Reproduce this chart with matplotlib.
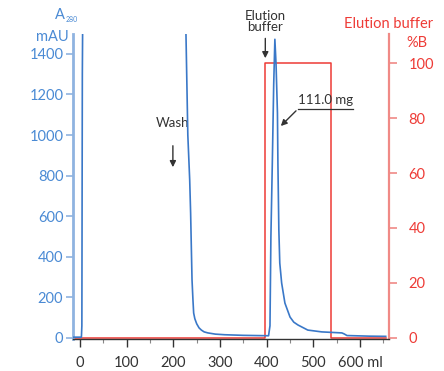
import matplotlib
matplotlib.use("Agg")
import matplotlib.pyplot as plt

# A280 trace (ml, mAU)
a280_ml = [-15, 3, 4, 5, 7, 224, 227, 231, 235, 237, 238.5, 240, 242, 243.5, 246, 250, 255,
           260, 266, 274, 290, 310, 350, 404, 407, 409, 412, 415, 417.5, 420, 423, 424, 426,
           428, 432, 439, 450, 458, 467, 488, 518, 561, 566, 572, 620, 655]
a280_mau = [4, 4, 60, 1300, 2000, 2000, 1500, 1000, 780, 616, 449, 286, 187, 123, 95, 70, 50,
            39, 30, 25, 19, 16, 13, 11, 60, 500, 860, 1250, 1472, 1350, 1109, 862, 532,
            369, 271, 172, 103, 78, 64, 39, 30, 25, 20, 12, 9, 8]

# %B trace
pctb_ml = [-15, 397, 397, 537, 537, 655]
pctb_val = [0, 0, 100, 100, 0, 0]

x_ticks = [0, 100, 200, 300, 400, 500, 600]
x_ticklabels = ["0", "100", "200", "300", "400", "500", "600 ml"]
y_ticks = [0, 200, 400, 600, 800, 1000, 1200, 1400]
y2_ticks = [0, 20, 40, 60, 80, 100]

BLUE = "#3a78c8"
BLUE_TXT = "#4a8ad4"
LBLUE = "#8fb3e0"
RED = "#ee3b36"
LRED = "#f08a86"
DARK = "#333333"

plt.rcParams['font.family'] = ['Lato', 'DejaVu Sans']

fig = plt.figure(figsize=(4.44, 3.71), dpi=100)
ax = fig.add_axes([73/444, 1-339/371, (389-73)/444, (339-33.6)/371])
ax2 = ax.twinx()

ax.set_xlim(-15, 662)
ax.set_ylim(-5, 1500)
ax2.set_ylim(-0.37, 110.7)

ax2.plot(pctb_ml, pctb_val, color=RED, lw=1.1, clip_on=False, zorder=2)
ax.plot(a280_ml, a280_mau, color=BLUE, lw=1.2, zorder=4)
ax.set_zorder(ax2.get_zorder() + 1)
ax.patch.set_visible(False)

for a in (ax, ax2):
    a.spines['top'].set_visible(False)
ax.spines['right'].set_visible(False)
ax2.spines['left'].set_visible(False)
ax2.spines['bottom'].set_visible(False)
ax.spines['left'].set_color(LBLUE)
ax.spines['left'].set_linewidth(2)
ax.spines['bottom'].set_color(DARK)
ax.spines['bottom'].set_linewidth(1)
ax2.spines['right'].set_color(LRED)
ax2.spines['right'].set_linewidth(1.6)

ax.set_xticks(x_ticks)
ax.set_xticklabels(x_ticklabels)
ax.set_xticks([50, 150, 250, 350, 450, 550, 650], minor=True)
ax.tick_params(axis='x', colors=DARK, labelsize=10.5, length=6, width=1, pad=6)
ax.tick_params(axis='x', which='minor', colors="#888888", length=3, width=0.8)
ax.set_yticks(y_ticks)
ax.tick_params(axis='y', colors=LBLUE, labelcolor=BLUE_TXT, labelsize=10.5, length=5, width=1.2, pad=2)
ax2.set_yticks(y2_ticks)
ax2.tick_params(axis='y', colors=LRED, labelcolor=RED, labelsize=10.5, length=6, width=1.2, pad=8)

# axis titles
fig.text(65/444, 1-15/371, "A", color=BLUE_TXT, fontsize=10.5, ha='right', va='center')
fig.text(66/444, 1-19/371, "280", color=BLUE_TXT, fontsize=5, ha='left', va='center')
fig.text(69/444, 1-37/371, "mAU", color=BLUE_TXT, fontsize=10.5, ha='right', va='center')
fig.text(433/444, 1-24/371, "Elution buffer", color=RED, fontsize=10.5, ha='right', va='center')
fig.text(427/444, 1-43/371, "%B", color=RED, fontsize=10.5, ha='right', va='center')

# annotations
ax.annotate("", xy=(397, 1365), xytext=(397, 1490),
            arrowprops=dict(arrowstyle='-|>', color=DARK, lw=1, mutation_scale=9),
            annotation_clip=False)
ax.text(397, 1503, "Elution\nbuffer", color=DARK, fontsize=9.5, ha='center', va='bottom',
        linespacing=0.9, clip_on=False)
ax.text(199, 1060, "Wash", color=DARK, fontsize=9.5, ha='center', va='center')
ax.annotate("", xy=(199, 828), xytext=(199, 961),
            arrowprops=dict(arrowstyle='-|>', color=DARK, lw=1, mutation_scale=9))
ax.text(526, 1175, "111.0 mg", color=DARK, fontsize=9.5, ha='center', va='center')
ax.plot([467, 585], [1129, 1129], color=DARK, lw=0.9)
ax.annotate("", xy=(426, 1035), xytext=(467, 1129),
            arrowprops=dict(arrowstyle='-|>', color=DARK, lw=1, mutation_scale=9))

fig.savefig("out.png", dpi=100)
